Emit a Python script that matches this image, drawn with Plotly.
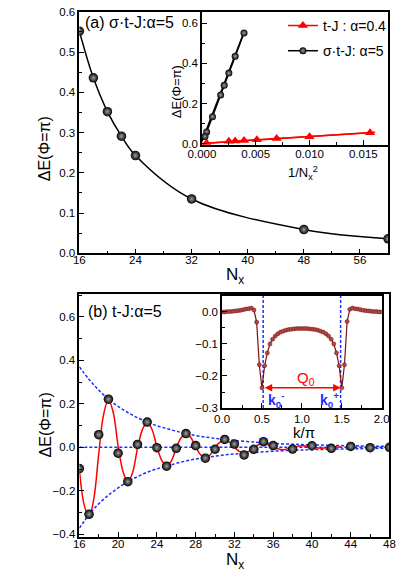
import plotly.graph_objects as go

# ---- panel (a): sigma-t-J, alpha=5
Nx_a = [16, 18, 20, 22, 24, 32, 48, 60]
dE_a = [0.552, 0.436, 0.352, 0.291, 0.243, 0.135, 0.059, 0.036]

# inset (a): vs 1/Nx^2
Nx_tJ = [48, 20, 18, 16, 14, 12, 10, 8]
dE_tJ = [0.003, 0.012, 0.014, 0.016, 0.020, 0.026, 0.035, 0.055]
invN2_tJ = [1.0 / n**2 for n in Nx_tJ]
invN2_a = [1.0 / n**2 for n in Nx_a]
fit_x_tJ = [0.0, 0.0161]
fit_y_tJ = [0.001, 0.057]
fit_x_a = [0.0, 0.0039]
fit_y_a = [0.012, 0.556]

# ---- panel (b): t-J, alpha=5
Nx_b = [16, 17, 18, 19, 20, 21, 22, 23, 24, 25, 26, 27, 28, 29, 30, 31, 32,
        33, 34, 35, 36, 38, 40, 42, 44, 46, 48]
dE_b = [-0.098, -0.308, 0.058, 0.221, -0.027, -0.158, 0.013, 0.116, -0.002,
        -0.087, -0.005, 0.063, 0.008, -0.050, -0.009, 0.036, 0.015, -0.035,
        -0.009, 0.026, 0.008, -0.008, 0.007, -0.005, 0.004, -0.002, 0.000]

# fitted oscillating curve
fit_N_b = [16, 16.5, 17, 17.5, 18, 18.5, 19, 19.5, 20, 20.5, 21, 21.5, 22,
           22.5, 23, 23.5, 24, 24.5, 25, 25.5, 26, 26.5, 27, 27.5, 28, 28.5,
           29, 29.5, 30, 30.5, 31, 31.5, 32, 32.5, 33, 33.5, 34, 34.5, 35,
           35.5, 36, 37, 38, 39, 40, 41, 42, 43]
fit_E_b = [-0.100, -0.265, -0.320, -0.235, -0.030, 0.150, 0.220, 0.160, 0.005,
           -0.110, -0.160, -0.115, -0.005, 0.080, 0.115, 0.082, 0.003, -0.060,
           -0.087, -0.062, -0.003, 0.044, 0.063, 0.045, 0.002, -0.034, -0.048,
           -0.034, -0.001, 0.024, 0.034, 0.024, 0.000, -0.019, -0.027, -0.019,
           0.000, 0.012, 0.017, 0.012, 0.000, -0.011, 0.000, 0.007, 0.000,
           -0.004, 0.000, 0.001]

# envelopes
env_N = [16, 17, 18, 19, 20, 21, 22, 23, 24, 25, 26, 27, 28, 29, 30, 31, 32,
         34, 36, 38, 40, 44, 48]
env_up = [0.370, 0.312, 0.263, 0.222, 0.188, 0.160, 0.136, 0.116, 0.099,
          0.086, 0.074, 0.063, 0.054, 0.047, 0.041, 0.035, 0.031, 0.024,
          0.018, 0.014, 0.011, 0.007, 0.004]
env_lo = [-0.372, -0.310, -0.260, -0.220, -0.187, -0.158, -0.135, -0.115,
          -0.099, -0.087, -0.074, -0.063, -0.054, -0.048, -0.041, -0.035,
          -0.031, -0.024, -0.018, -0.014, -0.011, -0.007, -0.004]

# inset (b): momentum profile, k/pi = n/30
k_pi = [n / 30 for n in range(61)]
dE_k = [0.000, 0.000, 0.001, 0.001, 0.002, 0.003, 0.004, 0.005, 0.007, 0.009,
        0.010, 0.012, 0.006, -0.032, -0.165, -0.237, -0.168, -0.128, -0.100,
        -0.085, -0.075, -0.068, -0.063, -0.060, -0.057, -0.055, -0.054,
        -0.053, -0.052, -0.052, -0.052, -0.052, -0.052, -0.053, -0.054,
        -0.055, -0.057, -0.060, -0.063, -0.068, -0.075, -0.085, -0.100,
        -0.128, -0.168, -0.237, -0.165, -0.030, 0.008, 0.012, 0.010, 0.009,
        0.007, 0.005, 0.004, 0.003, 0.002, 0.001, 0.001, 0.000, 0.000]
k0 = [0.515, 1.485]
k0_level = -0.237

W, H = 415, 582
FONT = "Arial, Liberation Sans, sans-serif"
BLUE = "#1f2cff"
sphere = dict(color="black", size=9.5, gradient=dict(type="radial", color="#a0a0a0"),
              line=dict(width=0))

def px(x):
    return x / W

def py(y):
    return 1 - y / H

fig = go.Figure()

# panel (a)
fig.add_trace(go.Scatter(x=Nx_a, y=dE_a, mode="lines", line=dict(color="black", width=1.5, shape="spline"),
                         showlegend=False, xaxis="x", yaxis="y"))
fig.add_trace(go.Scatter(x=Nx_a, y=dE_a, mode="markers", marker=sphere, showlegend=False,
                         xaxis="x", yaxis="y"))

# inset (a)
fig.add_trace(go.Scatter(x=fit_x_tJ, y=fit_y_tJ, mode="lines", line=dict(color="red", width=1.5),
                         showlegend=False, xaxis="x2", yaxis="y2"))
fig.add_trace(go.Scatter(x=fit_x_a, y=fit_y_a, mode="lines", line=dict(color="black", width=1.5),
                         showlegend=False, xaxis="x2", yaxis="y2"))
fig.add_trace(go.Scatter(x=invN2_tJ, y=dE_tJ, mode="lines+markers", name="t-J : α=0.4",
                         legendgroup="a", line=dict(color="red", width=1.5),
                         marker=dict(symbol="triangle-up", size=9, color="red"),
                         xaxis="x2", yaxis="y2"))
fig.add_trace(go.Scatter(x=invN2_a, y=dE_a, mode="lines+markers", name="σ·t-J: α=5",
                         legendgroup="b", line=dict(color="black", width=1.5),
                         marker=dict(sphere, size=7), xaxis="x2", yaxis="y2"))

# panel (b)
dash = dict(color=BLUE, width=1.5, dash="3px,2px", shape="spline")
fig.add_trace(go.Scatter(x=env_N, y=env_up, mode="lines", line=dash, showlegend=False, xaxis="x3", yaxis="y3"))
fig.add_trace(go.Scatter(x=env_N, y=env_lo, mode="lines", line=dash, showlegend=False, xaxis="x3", yaxis="y3"))
fig.add_trace(go.Scatter(x=[Nx_b[0], Nx_b[-1]], y=[0, 0], mode="lines", line=dict(dash, shape="linear"),
                         showlegend=False, xaxis="x3", yaxis="y3"))
fig.add_trace(go.Scatter(x=fit_N_b, y=fit_E_b, mode="lines", line=dict(color="red", width=1.5, shape="spline"),
                         showlegend=False, xaxis="x3", yaxis="y3"))
fig.add_trace(go.Scatter(x=Nx_b, y=dE_b, mode="markers", marker=sphere, showlegend=False,
                         xaxis="x3", yaxis="y3"))

# inset (b)
for k in k0:
    fig.add_trace(go.Scatter(x=[k, k], y=[-0.3, 0.05], mode="lines",
                             line=dict(color=BLUE, width=1.5, dash="3px,2px"),
                             showlegend=False, xaxis="x4", yaxis="y4"))
fig.add_trace(go.Scatter(x=k_pi, y=dE_k, mode="lines+markers", showlegend=False,
                         line=dict(color="#7a0f0f", width=1.2),
                         marker=dict(symbol="circle", size=4, color="#b04a4a",
                                     line=dict(color="#7a0f0f", width=0.6)),
                         xaxis="x4", yaxis="y4"))

ax = dict(showline=True, linecolor="black", linewidth=1.5, mirror=True, ticks="inside",
          ticklen=5, tickwidth=1.2, tickcolor="black", showgrid=False, zeroline=False,
          tickfont=dict(size=11.5, color="black"),
          minor=dict(ticks="inside", ticklen=3, tickwidth=1, tickcolor="black"))

fig.update_layout(
    width=W, height=H, margin=dict(l=0, r=0, t=0, b=0),
    paper_bgcolor="white", plot_bgcolor="rgba(0,0,0,0)",
    font=dict(family=FONT, color="black"),
    xaxis=dict(ax, domain=[px(69), px(395)], range=[16, 60], tickvals=[16, 24, 32, 40, 48, 56],
               minor=dict(ax["minor"], dtick=4, tick0=16), anchor="y", ticklabelstandoff=-5),
    yaxis=dict(ax, domain=[py(252.5), py(6)], range=[0, 0.6], dtick=0.1, tickformat=".1f",
               minor=dict(ax["minor"], dtick=0.05), anchor="x"),
    xaxis2=dict(ax, domain=[px(198.5), px(395)], range=[0, 0.0173], dtick=0.005, tickformat=".3f",
                minor=dict(ax["minor"], dtick=0.0025), anchor="y2", ticklabelstandoff=-2),
    yaxis2=dict(ax, domain=[py(141.7), py(6)], range=[-0.005, 0.657], tickvals=[0, 0.2, 0.4, 0.6],
                tickformat=".1f", minor=dict(ax["minor"], dtick=0.1), anchor="x2"),
    xaxis3=dict(ax, domain=[px(69), px(396.5)], range=[16, 48], dtick=4,
                minor=dict(ax["minor"], dtick=2), anchor="y3", ticklabelstandoff=-5),
    yaxis3=dict(ax, domain=[py(542.3), py(294)], range=[-0.413, 0.705], tickvals=[-0.4, -0.2, 0, 0.2, 0.4, 0.6],
                tickformat=".1f", minor=dict(ax["minor"], dtick=0.1), anchor="x3"),
    xaxis4=dict(ax, domain=[px(219.7), px(388.3)], range=[0, 2.0], dtick=0.5, tickformat=".1f",
                minor=dict(ax["minor"], dtick=0.25), anchor="y4", ticklabelstandoff=-1),
    yaxis4=dict(ax, domain=[py(410.5), py(296)], range=[-0.3, 0.05], tickvals=[0, -0.1, -0.2, -0.3],
                tickformat=".1f", minor=dict(ax["minor"], dtick=0.05), anchor="x4"),
    legend=dict(x=px(284), y=py(4), xanchor="left", yanchor="top", font=dict(size=14),
                bgcolor="rgba(0,0,0,0)", itemwidth=30, tracegroupgap=4),
)

def note(text, x, y, size, angle=0, color="black", anchor="center"):
    fig.add_annotation(text=text, x=px(x), y=py(y), xref="paper", yref="paper", showarrow=False,
                       textangle=angle, xanchor=anchor, yanchor="middle",
                       font=dict(size=size, color=color, family=FONT))

note("(a) σ·t-J:α=5", 73, 17, 16, anchor="left")
note("(b) t-J:α=5", 76, 312, 16, anchor="left")
note("ΔE(Φ=π)", 33, 146, 16, angle=-90)
note("ΔE(Φ=π)", 33, 428, 16, angle=-90)
note("N<sub>x</sub>", 233, 276, 17)
note("N<sub>x</sub>", 233, 567, 17)
note("ΔE(Φ=π)", 171, 87, 13, angle=-90)
note("1/N<sub>x</sub><sup>2</sup>", 305, 171, 13)
note("k/π", 306, 435, 15)
note("Q<sub>0</sub>", 308, 380, 15, color="red")
note("<b>k<sub>0</sub><sup>-</sup></b>", 266, 402, 14, color=BLUE, anchor="left")
note("<b>k<sub>0</sub><sup>+</sup></b>", 345, 402, 14, color=BLUE, anchor="right")

# double arrow between k0- and k0+
fig.add_annotation(x=k0[1], y=k0_level, ax=k0[0], ay=k0_level, xref="x4", yref="y4",
                   axref="x4", ayref="y4", showarrow=True, arrowhead=2, arrowside="end+start",
                   arrowsize=1, arrowwidth=1.5, arrowcolor="red", text="")

# page body has a default margin; drop it so the figure sits at the window origin
fig.write_html("out.html", config={"displayModeBar": False},
               post_script="document.body.style.margin='0';")
